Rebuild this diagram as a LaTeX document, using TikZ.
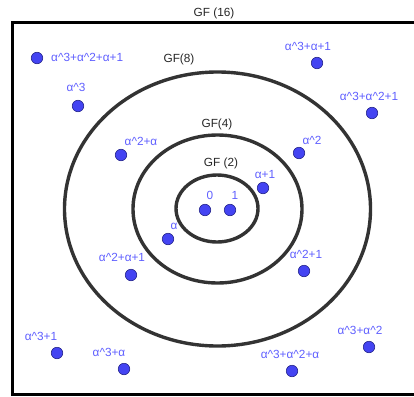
\documentclass[tikz,border=0pt]{standalone}
\usepackage{fontspec}
\setmainfont{Liberation Sans}
\definecolor{ringgray}{HTML}{333333}
\definecolor{dotfill}{HTML}{4444F2}
\definecolor{dotedge}{HTML}{22228A}
\definecolor{elemblue}{HTML}{5F5FFF}
\tikzset{
  elem/.style={circle, fill=dotfill, draw=dotedge, line width=0.6pt, minimum size=11.5pt, inner sep=0pt},
  elemlabel/.style={text=elemblue, font=\fontsize{11.8}{13}\selectfont, inner sep=0pt},
  fieldlabel/.style={text=black!85, font=\fontsize{11.8}{13}\selectfont, inner sep=0pt},
  ring/.style={draw=ringgray, line width=3.4pt},
}
\begin{document}
\begin{tikzpicture}[x=1pt, y=-1pt]
\useasboundingbox (0,0) rectangle (414,396);
\clip (0,0) rectangle (414,396);
% GF(16) frame (open on the right side)
\draw[line width=3pt, black] (420,23) -- (12,23) -- (12,394) -- (420,394);
\node[fieldlabel] (gf16) at (214,13) {GF (16)};
% nested subfields
\draw[ring] (217.5,209) ellipse [x radius=153, y radius=137];
\draw[ring] (217.5,209) ellipse [x radius=84.5, y radius=74];
\draw[ring] (217,208.5) ellipse [x radius=41, y radius=33.5];
\node[fieldlabel] (gf8) at (179,59) {GF(8)};
\node[fieldlabel] (gf4) at (217,124) {GF(4)};
\node[fieldlabel] (gf2) at (221,163) {GF (2)};
% elements
\node[elem] (e15) at (37,58) {};
\node[elemlabel, anchor=west] (l15) at (51,57) {α\^{}3+α\^{}2+α+1};
\node[elem] (e11) at (317,63) {};
\node[elemlabel] (l11) at (308,46) {α\^{}3+α+1};
\node[elem] (e8) at (78,106) {};
\node[elemlabel] (l8) at (76,87) {α\^{}3};
\node[elem] (e13) at (372,113) {};
\node[elemlabel] (l13) at (369,96) {α\^{}3+α\^{}2+1};
\node[elem] (e6) at (121,155) {};
\node[elemlabel] (l6) at (141,141) {α\^{}2+α};
\node[elem] (e4) at (299,153) {};
\node[elemlabel] (l4) at (312,140) {α\^{}2};
\node[elem] (e3) at (263,188) {};
\node[elemlabel] (l3) at (265,174) {α+1};
\node[elem] (e0) at (205,210) {};
\node[elemlabel] (l0) at (210,195) {0};
\node[elem] (e1) at (230,210) {};
\node[elemlabel] (l1) at (235,195) {1};
\node[elem] (e2) at (168,239) {};
\node[elemlabel] (l2) at (174,226) {α};
\node[elem] (e7) at (131,275) {};
\node[elemlabel] (l7) at (122,257) {α\^{}2+α+1};
\node[elem] (e5) at (304,271) {};
\node[elemlabel] (l5) at (306,254) {α\^{}2+1};
\node[elem] (e9) at (57,353) {};
\node[elemlabel] (l9) at (41,336) {α\^{}3+1};
\node[elem] (e10) at (124,369) {};
\node[elemlabel] (l10) at (109,352) {α\^{}3+α};
\node[elem] (e14) at (292,371) {};
\node[elemlabel] (l14) at (290,354) {α\^{}3+α\^{}2+α};
\node[elem] (e12) at (369,347) {};
\node[elemlabel] (l12) at (360,330) {α\^{}3+α\^{}2};
\end{tikzpicture}
\end{document}
